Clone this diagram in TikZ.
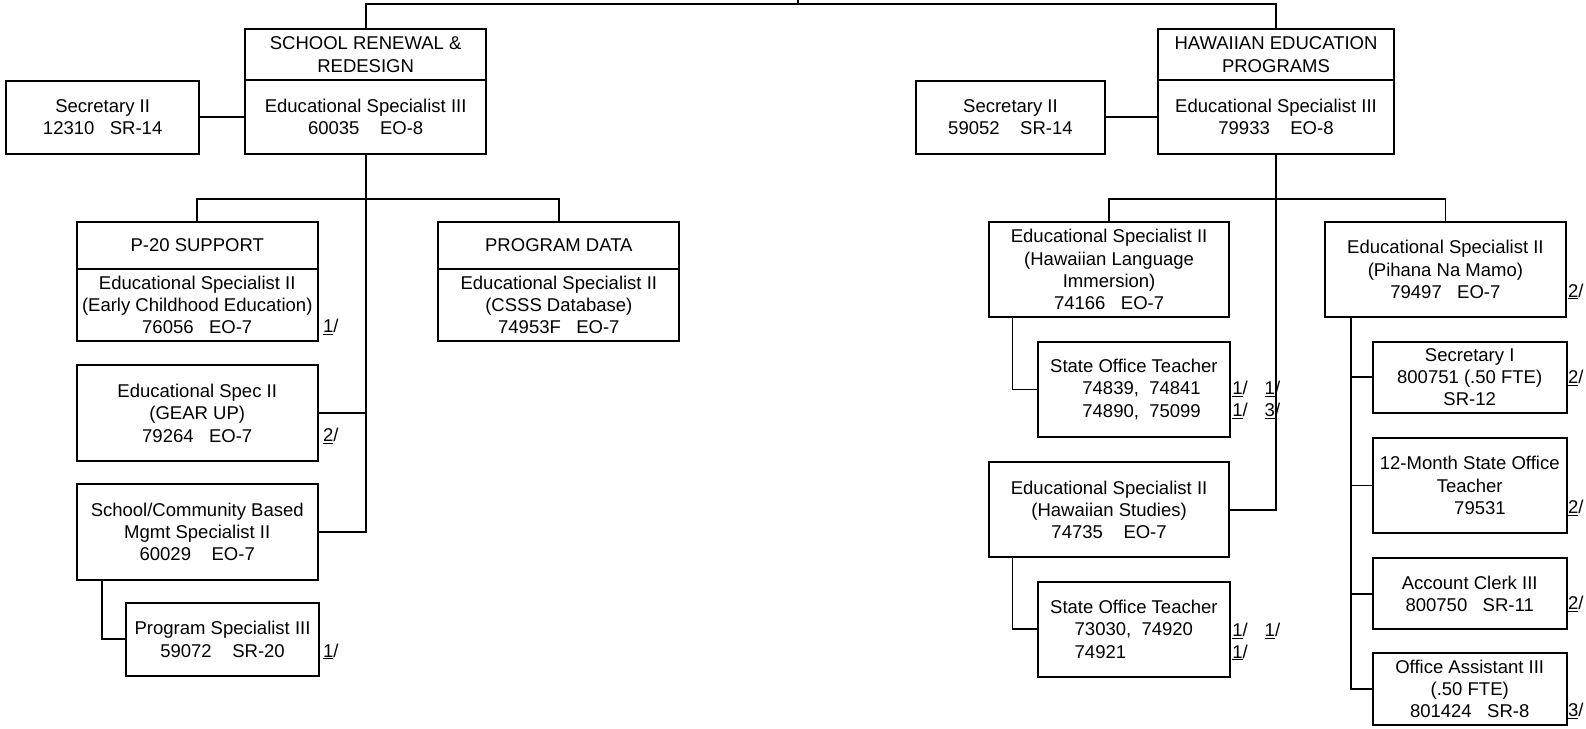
\documentclass[tikz,border=0pt]{standalone}
\usepackage{fontspec}
\setmainfont{Liberation Sans}
\usetikzlibrary{positioning}
\newcommand{\orgfont}{\fontsize{18.3}{22}\selectfont}
\tikzset{
  box/.style={draw, line width=2pt, outer sep=0pt, inner sep=0pt,
    align=center, font=\orgfont},
  head/.style={box},
  link/.style={line width=1.8pt},
  note/.style={font=\orgfont, inner sep=0pt}
}

\begin{document}
\begin{tikzpicture}[x=1pt, y=-1pt]
\useasboundingbox (0,0) rectangle (1568,720);

% school renewal & redesign
\node[box, minimum width=238pt, minimum height=73pt] (srr) at (361.5,115.5) {Educational Specialist III\\60035\ \ \ \ EO-8};
\node[head, minimum width=238pt, minimum height=50pt, above=0pt of srr] (srrhead) {SCHOOL RENEWAL \&\\REDESIGN};
\node[box, minimum width=191pt, minimum height=72pt] (secl) at (101.5,116) {Secretary II\\12310\ \ \ SR-14};

\node[box, minimum width=238pt, minimum height=71pt] (p20) at (195,301.5) {Educational Specialist II\\(Early Childhood Education)\\76056\ \ \ EO-7};
\node[head, minimum width=238pt, minimum height=46.5pt, above=0pt of p20] (p20head) {P-20 SUPPORT};
\node[box, minimum width=238pt, minimum height=71pt] (pd) at (552.5,301.5) {Educational Specialist II\\(CSSS Database)\\74953F\ \ \ EO-7};
\node[head, minimum width=238pt, minimum height=46.5pt, above=0pt of pd] (pdhead) {PROGRAM DATA};
\node[box, minimum width=238pt, minimum height=95pt] (gear) at (195,408.5) {Educational Spec II\\(GEAR UP)\\79264\ \ \ EO-7};
\node[box, minimum width=238pt, minimum height=94.5pt] (scb) at (195,525.75) {School/Community Based\\Mgmt Specialist II\\60029\ \ \ \ EO-7};
\node[box, minimum width=190pt, minimum height=72pt] (ps3) at (220,632) {Program Specialist III\\59072\ \ \ \ SR-20};

\node[note] (n-p20) at (327,323) {\underline{1}/};
\node[note] (n-gear) at (327,431) {\underline{2}/};
\node[note] (n-ps3) at (327,644) {\underline{1}/};

% hawaiian education programs
\node[box, minimum width=233pt, minimum height=73pt] (hep) at (1261.5,115.5) {Educational Specialist III\\79933\ \ \ \ EO-8};
\node[head, minimum width=233pt, minimum height=50pt, above=0pt of hep] (hephead) {HAWAIIAN EDUCATION\\PROGRAMS};
\node[box, minimum width=186pt, minimum height=72pt] (secr) at (999,116) {Secretary II\\59052\ \ \ \ SR-14};

\node[box, minimum width=237pt, minimum height=94pt] (hli) at (1096.5,266.5) {Educational Specialist II\\(Hawaiian Language\\Immersion)\\74166\ \ \ EO-7};
\node[box, minimum width=190pt, minimum height=94pt] (sot1) at (1121,385) {State Office Teacher\\\ \ \ 74839,\ \ 74841\\\ \ \ 74890,\ \ 75099};
\node[box, minimum width=237pt, minimum height=94pt] (hs) at (1096.5,504) {Educational Specialist II\\(Hawaiian Studies)\\74735\ \ \ \ EO-7};
\node[box, minimum width=190pt, minimum height=94pt] (sot2) at (1121,622) {State Office Teacher\\73030,\ \ 74920\\74921\hphantom{,\ \ 74920}};

\node[box, minimum width=238pt, minimum height=94pt] (pnm) at (1429,266.5) {Educational Specialist II\\(Pihana Na Mamo)\\79497\ \ \ EO-7};
\node[box, minimum width=192pt, minimum height=70pt] (seci) at (1453,373) {Secretary I\\800751 (.50 FTE)\\SR-12};
\node[box, minimum width=192pt, minimum height=94pt] (tmo) at (1453,480) {12-Month State Office\\Teacher\\\ \ \ \ 79531};
\node[box, minimum width=192pt, minimum height=70.5pt] (acc) at (1453,587) {Account Clerk III\\800750\ \ \ SR-11};
\node[box, minimum width=192pt, minimum height=71.5pt] (oa3) at (1453,681) {Office Assistant III\\(.50 FTE)\\801424\ \ \ SR-8};

\node[note] (n-sot1a) at (1226,384.5) {\underline{1}/};
\node[note] (n-sot1b) at (1258,384.5) {\underline{1}/};
\node[note] (n-sot1c) at (1226,406) {\underline{1}/};
\node[note] (n-sot1d) at (1258,406) {\underline{3}/};
\node[note] (n-sot2a) at (1226,624) {\underline{1}/};
\node[note] (n-sot2b) at (1258,624) {\underline{1}/};
\node[note] (n-sot2c) at (1226,645) {\underline{1}/};
\node[note] (n-pnm) at (1558,288) {\underline{2}/};
\node[note] (n-seci) at (1558,374) {\underline{2}/};
\node[note] (n-tmo) at (1558,502) {\underline{2}/};
\node[note] (n-acc) at (1558,597) {\underline{2}/};
\node[note] (n-oa3) at (1558,703) {\underline{3}/};

% connectors
\coordinate (parent) at (789,0);
\coordinate (bus) at (789,4);
\coordinate (lsplit) at (361.5,197);
\coordinate (rsplit) at (1261.5,197);
\draw[link] (parent) -- (bus);
\draw[link] (srrhead.north) |- (bus) -| (hephead.north);

\draw[link] (secl.east) -- (secl.east -| srr.west);
\draw[link] (srr.south) |- (scb.east);
\draw[link] (p20head.north) |- (lsplit) -| (pdhead.north);
\draw[link] (gear.east) -- (gear.east -| srr.south);
\draw[link] ([xshift=25pt]scb.south west) |- (ps3.west);

\draw[link] (secr.east) -- (secr.east -| hep.west);
\draw[link] (hep.south) |- (hs.east);
\draw[link] (hli.north) |- (rsplit) -| (pnm.north);
\draw[link] ([xshift=23pt]hli.south west) |- (sot1.west);
\draw[link] ([xshift=23pt]hs.south west) |- (sot2.west);
\draw[link] ([xshift=26pt]pnm.south west) |- (oa3.west);
\foreach \kid in {seci,tmo,acc}
  \draw[link] (\kid.west) -- ++(-21,0);
\end{tikzpicture}
\end{document}
